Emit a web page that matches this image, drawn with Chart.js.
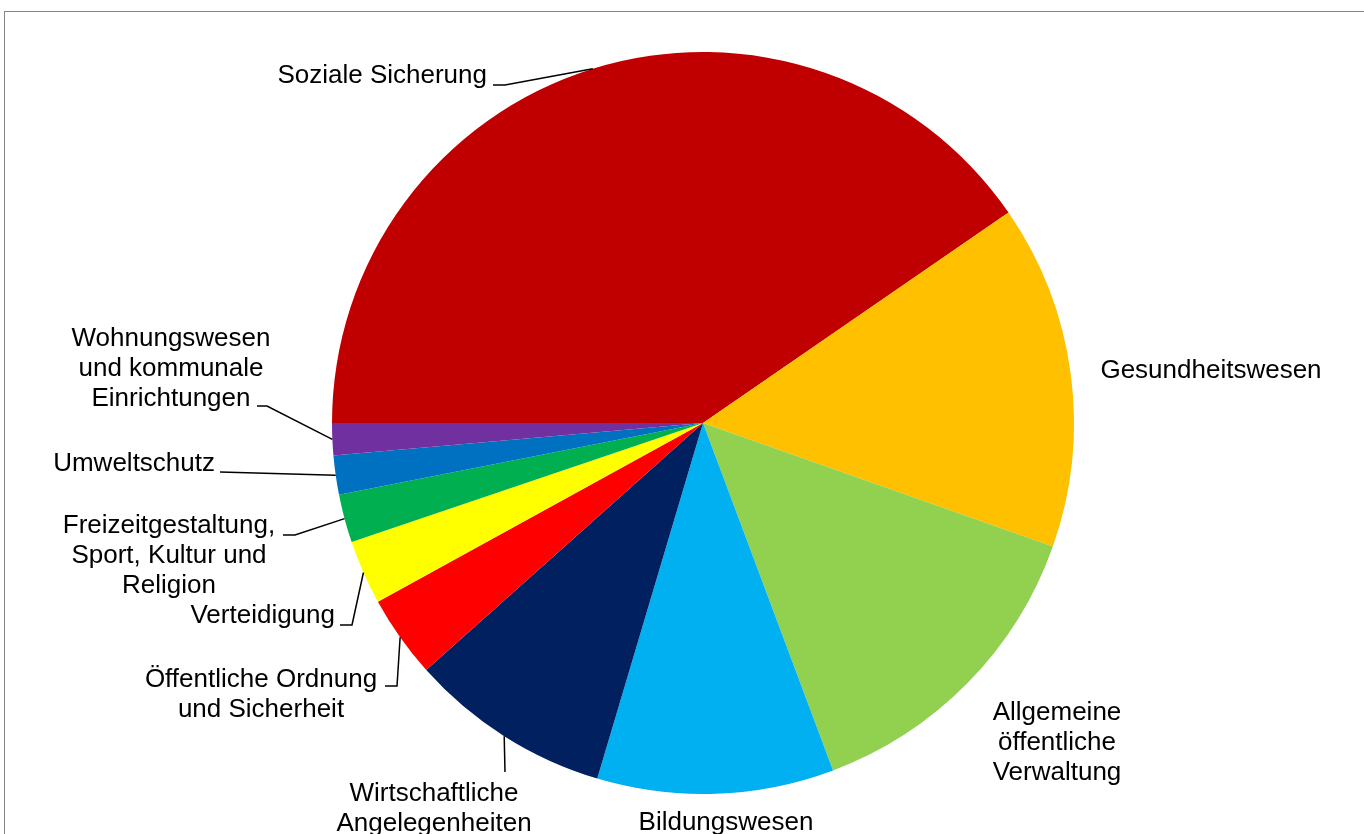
<!DOCTYPE html>
<html lang="de">
<head>
<meta charset="utf-8">
<title>Staatsausgaben nach Aufgabenbereichen</title>
<script src="https://cdn.jsdelivr.net/npm/chart.js@4"></script>
<style>
    html, body { margin: 0; padding: 0; background: #ffffff; overflow: hidden; }
    #frame { position: absolute; left: 4px; top: 11px; width: 2000px; height: 2000px; border: 1px solid #868686; }
    #wrap { position: absolute; left: 0; top: 0; width: 1364px; height: 834px; }
</style>
</head>
<body>
<div id="frame"></div>
<div id="wrap"><canvas id="myChart"></canvas></div>
<script>
// Kategorien und Anteile (in %)
const categories = [
    'Soziale Sicherung',
    'Gesundheitswesen',
    'Allgemeine öffentliche Verwaltung',
    'Bildungswesen',
    'Wirtschaftliche Angelegenheiten',
    'Öffentliche Ordnung und Sicherheit',
    'Verteidigung',
    'Freizeitgestaltung, Sport, Kultur und Religion',
    'Umweltschutz',
    'Wohnungswesen und kommunale Einrichtungen'
];
const values = [40.4, 15.0, 13.9, 10.3, 8.8, 3.6, 2.8, 2.1, 1.7, 1.4];
const labelLines = [
    ['Soziale Sicherung'],
    ['Gesundheitswesen'],
    ['Allgemeine', 'öffentliche', 'Verwaltung'],
    ['Bildungswesen'],
    ['Wirtschaftliche', 'Angelegenheiten'],
    ['Öffentliche Ordnung', 'und Sicherheit'],
    ['Verteidigung'],
    ['Freizeitgestaltung,', 'Sport, Kultur und', 'Religion'],
    ['Umweltschutz'],
    ['Wohnungswesen', 'und kommunale', 'Einrichtungen']
];
const colors = ['#C00000', '#FFC000', '#92D050', '#00B0F0', '#002060', '#FF0000', '#FFFF00', '#00B050', '#0070C0', '#7030A0'];

// Lage der Beschriftungen relativ zur Kreismitte (px): Text-Anker, Ausrichtung, Führungslinie
const labelLayout = [
    { tx: -216, ty: -340, align: 'right', leader: [-210, -338, -198] },
    { tx: 508, ty: -45, align: 'center', leader: null },
    { tx: 354, ty: 297, align: 'center', leader: null },
    { tx: 23, ty: 407, align: 'center', leader: null },
    { tx: -269, ty: 378, align: 'center', leader: [-198, 349, -198] },
    { tx: -442, ty: 264, align: 'center', leader: [-318, 263, -306] },
    { tx: -368, ty: 200, align: 'right', leader: [-363, 202, -351] },
    { tx: -534, ty: 110, align: 'center', leader: [-420, 112, -408] },
    { tx: -488, ty: 48, align: 'right', leader: [-483, 49, -483] },
    { tx: -532, ty: -77, align: 'center', leader: [-446, -17, -436] }
];

// Beschriftungen mit Führungslinien
const pieLabels = {
    id: 'pieLabels',
    afterDatasetsDraw(chart) {
        const ctx = chart.ctx;
        const meta = chart.getDatasetMeta(0);
        ctx.save();
        ctx.font = '26px "Liberation Sans", Arial, sans-serif';
        ctx.fillStyle = '#000000';
        ctx.textBaseline = 'alphabetic';
        meta.data.forEach((arc, i) => {
            const p = arc.getProps(['x', 'y', 'startAngle', 'endAngle', 'outerRadius'], true);
            const lay = labelLayout[i];
            ctx.textAlign = lay.align;
            labelLines[i].forEach((line, k) => {
                ctx.fillText(line, p.x + lay.tx, p.y + lay.ty + k * 30);
            });
            if (lay.leader) {
                const mid = (p.startAngle + p.endAngle) / 2;
                const ex = p.x + Math.cos(mid) * p.outerRadius;
                const ey = p.y + Math.sin(mid) * p.outerRadius;
                ctx.beginPath();
                ctx.strokeStyle = '#000000';
                ctx.lineWidth = 1.5;
                ctx.moveTo(p.x + lay.leader[0], p.y + lay.leader[1]);
                ctx.lineTo(p.x + lay.leader[2], p.y + lay.leader[1]);
                ctx.lineTo(ex, ey);
                ctx.stroke();
            }
        });
        ctx.restore();
    }
};

var ctx = document.getElementById('myChart').getContext('2d');
var myChart = new Chart(ctx, {
    type: 'pie',
    data: {
        labels: categories,
        datasets: [{
            data: values,
            backgroundColor: colors,
            borderWidth: 0
        }]
    },
    options: {
        responsive: true,
        maintainAspectRatio: false,
        animation: false,
        rotation: 270,
        layout: {
            padding: { top: 52, bottom: 40, left: 42, right: 0 }
        },
        plugins: {
            legend: { display: false },
            tooltip: { enabled: false }
        }
    },
    plugins: [pieLabels]
});
</script>
</body>
</html>
